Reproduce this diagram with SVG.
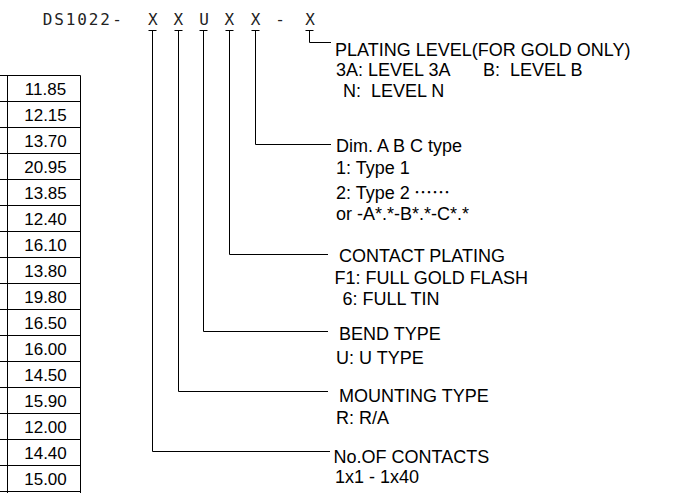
<svg xmlns="http://www.w3.org/2000/svg" width="675" height="493" viewBox="0 0 675 493">
<style>
  .lbl { font-family: "Liberation Sans", Arial, sans-serif; font-size: 18px; fill: #000; }
  .num { font-family: "Liberation Sans", Arial, sans-serif; font-size: 17px; fill: #000; text-anchor: middle; }
  .hdr { font-family: "DejaVu Sans Mono", monospace; font-size: 16px; fill: #222; text-anchor: middle; }
  .ln { stroke: #000; stroke-width: 1; fill: none; }
  .tl { stroke: #000; stroke-width: 1; fill: none; }
  .cjk { font-family: "Noto Sans CJK SC", sans-serif; font-size: 18px; font-feature-settings: "fwid"; }
</style>
<rect x="0" y="0" width="675" height="493" fill="#fff"/>

<g id="table">
  <path class="tl" d="M7.5 75.5V493M80.5 75.5V493
    M0 75.5H80.5M0 101.5H80.5M0 127.5H80.5M0 153.5H80.5M0 179.5H80.5M0 205.5H80.5M0 231.5H80.5M0 257.5H80.5M0 283.5H80.5
    M0 309.5H80.5M0 335.5H80.5M0 361.5H80.5M0 387.5H80.5M0 413.5H80.5M0 439.5H80.5M0 465.5H80.5M0 491.5H80.5"/>
  <text class="num" x="45.5" y="95">11.85</text>
  <text class="num" x="45.5" y="121">12.15</text>
  <text class="num" x="45.5" y="147">13.70</text>
  <text class="num" x="45.5" y="173">20.95</text>
  <text class="num" x="45.5" y="199">13.85</text>
  <text class="num" x="45.5" y="225">12.40</text>
  <text class="num" x="45.5" y="251">16.10</text>
  <text class="num" x="45.5" y="277">13.80</text>
  <text class="num" x="45.5" y="303">19.80</text>
  <text class="num" x="45.5" y="329">16.50</text>
  <text class="num" x="45.5" y="355">16.00</text>
  <text class="num" x="45.5" y="381">14.50</text>
  <text class="num" x="45.5" y="407">15.90</text>
  <text class="num" x="45.5" y="433">12.00</text>
  <text class="num" x="45.5" y="459">14.40</text>
  <text class="num" x="45.5" y="485">15.00</text>
</g>

<g id="header">
  <text class="hdr" y="24.5" x="47.5 59 70.5 82 93.5 105 117 135 152.7 165 178.3 191 204 217 229.3 242 255.5 268 280 295 310">DS1022- X X U X X - X</text>
</g>

<g id="connectors">
  <path class="ln" d="M148.5 30.5H156.5M174.5 30.5H182.5M199.5 30.5H207.5M225.5 30.5H233.5M251.5 30.5H259.5M305.5 30.5H313.5"/>
  <path class="ln" d="M152.5 30.5V451.5H330"/>
  <path class="ln" d="M178.5 30.5V391.5H328"/>
  <path class="ln" d="M203.5 30.5V331.5H328"/>
  <path class="ln" d="M229.5 30.5V254.5H328"/>
  <path class="ln" d="M255.5 30.5V144.5H331"/>
  <path class="ln" d="M309.5 30.5V42.5H331"/>
</g>

<g id="plating-level">
  <text class="lbl" x="335" y="56">PLATING LEVEL(FOR GOLD ONLY)</text>
  <text class="lbl" x="336" y="76" xml:space="preserve">3A: LEVEL 3A<tspan x="483">B:  LEVEL B</tspan></text>
  <text class="lbl" x="343" y="97" xml:space="preserve">N:  LEVEL N</text>
</g>

<g id="dim-type">
  <text class="lbl" x="336" y="151.5">Dim. A B C type</text>
  <text class="lbl" x="336" y="174">1: Type 1</text>
  <text class="lbl" x="336" y="199">2: Type 2 <tspan class="cjk" lang="zh-CN" x="414">……</tspan></text>
  <text class="lbl" x="336" y="219.5">or -A*.*-B*.*-C*.*</text>
</g>

<g id="contact-plating">
  <text class="lbl" x="339" y="261.5">CONTACT PLATING</text>
  <text class="lbl" x="334.5" y="283.5">F1: FULL GOLD FLASH</text>
  <text class="lbl" x="342.5" y="305">6: FULL TIN</text>
</g>

<g id="bend-type">
  <text class="lbl" x="339" y="339.5">BEND TYPE</text>
  <text class="lbl" x="336" y="363.5">U: U TYPE</text>
</g>

<g id="mounting-type">
  <text class="lbl" x="339" y="401.5">MOUNTING TYPE</text>
  <text class="lbl" x="336" y="424">R: R/A</text>
</g>

<g id="no-of-contacts">
  <text class="lbl" x="333.5" y="462.5">No.OF CONTACTS</text>
  <text class="lbl" x="335" y="482.5">1x1 - 1x40</text>
</g>
</svg>
